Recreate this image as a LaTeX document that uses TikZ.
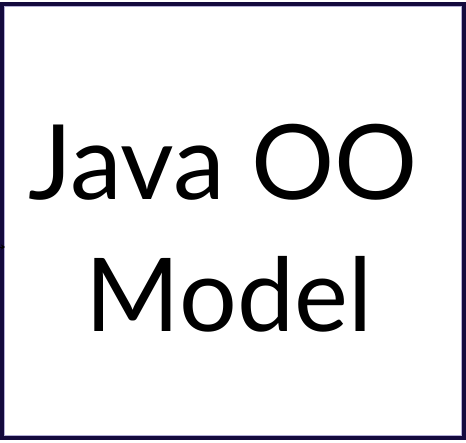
\documentclass[tikz,border=0pt]{standalone}
\usepackage{fontspec}
\setmainfont{Lato}
\usepackage{xcolor}
\definecolor{cadreNavy}{HTML}{140A3E}
\definecolor{cadreLavande}{HTML}{B4AED6}
\usepackage{tikz}
\usetikzlibrary{arrows.meta, positioning}
\tikzset{
  %% ── Frame ────────────────────────────────────────────────────────────
  cadre/.style     = {draw=cadreNavy, line width=4pt},
  cadreOmbre/.style = {draw=cadreLavande, line width=0.8pt},
  %%
  %% ── Title ────────────────────────────────────────────────────────────
  titre/.style     = {font=\fontsize{104}{132}\selectfont, text=black,
                      inner sep=0pt, anchor=base},
  %%
  %% ── Stub arrow on the left edge ──────────────────────────────────────
  flecheBord/.style = {-{Stealth[length=4pt, width=5pt]}, draw=black,
                       line width=0.8pt},
}

\begin{document}
\begin{tikzpicture}[x=1pt, y=1pt]

\useasboundingbox (0,0) rectangle (466,443);
\fill[white] (0,0) rectangle (466,443);

\draw[cadreOmbre] (4.6,7.4) rectangle (461.4,436.6);
\draw[cadre] (2,5) rectangle (464,439);

\node[titre] (ligneUn) at (223,243) {Java OO};
\node[titre, font=\fontsize{102}{132}\selectfont] (ligneDeux) at (229,111) {Model};

\coordinate (depart) at (-3,196);
\coordinate (bord) at (5,196);
\draw[flecheBord] (depart) -- (bord);

\end{tikzpicture}
\end{document}
